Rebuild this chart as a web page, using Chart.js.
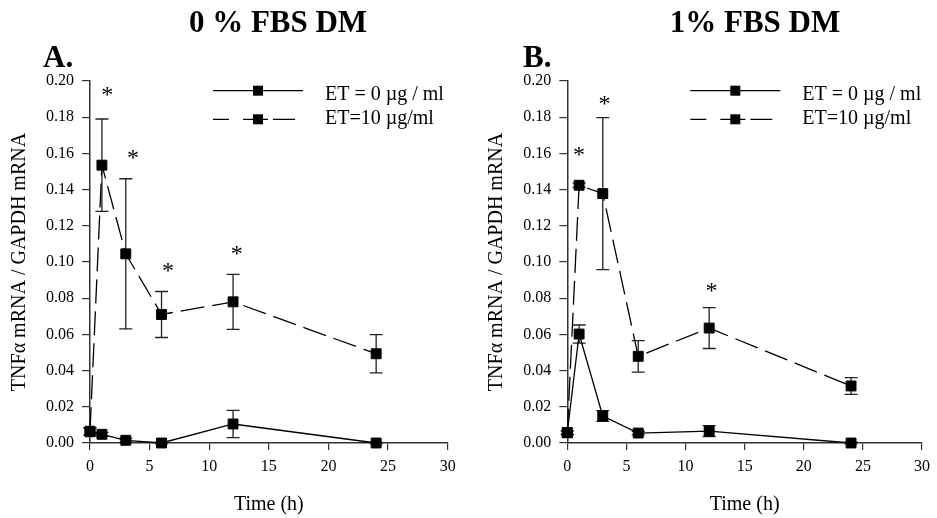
<!DOCTYPE html>
<html><head><meta charset="utf-8">
<script src="https://cdn.jsdelivr.net/npm/chart.js@4.4.0/dist/chart.umd.min.js"></script>
<style>
html,body{margin:0;padding:0;background:#fff;}
#wrap{position:relative;width:937px;height:518px;background:#fff;}
canvas{position:absolute;top:0;}
</style>
</head><body>
<div id="wrap">
<canvas id="cA" width="470" height="518" style="left:0px"></canvas>
<canvas id="cB" width="467" height="518" style="left:470px"></canvas>
</div>
<script>
// ---- data ----
const times = [0, 1, 3, 6, 12, 24];
const xTicks = [0, 5, 10, 15, 20, 25, 30];
const yTicks = [0, 0.02, 0.04, 0.06, 0.08, 0.10, 0.12, 0.14, 0.16, 0.18, 0.20];
const seriesNames = ['ET = 0 \u00b5g / ml', 'ET=10 \u00b5g/ml'];
const panelTitles = ['0 % FBS DM', '1% FBS DM'];
const panelLetters = ['A.', 'B.'];
const yTitle = 'TNF\u03b1 mRNA / GAPDH mRNA';
const xTitle = 'Time (h)';

const aEt0     = [0.0062, 0.0048, 0.0015, 0.0000, 0.0105, 0.0000];
const aEt0Err  = [0.0020, 0.0010, 0.0010, 0.0005, 0.0075, 0.0005];
const aEt10    = [0.0065, 0.1535, 0.1045, 0.0710, 0.0780, 0.0493];
const aEt10Err = [0.0020, 0.0255, 0.0415, 0.0127, 0.0152, 0.0106];

const bEt0     = [0.0057, 0.0602, 0.0149, 0.0055, 0.0066, 0.0000];
const bEt0Err  = [0.0010, 0.0050, 0.0030, 0.0010, 0.0030, 0.0005];
const bEt10    = [0.0057, 0.1424, 0.1378, 0.0479, 0.0635, 0.0315];
const bEt10Err = [0.0010, 0.0012, 0.0420, 0.0087, 0.0113, 0.0046];

const aStarX = [1.45, 3.6, 6.55, 12.3];
const aStarY = [0.195, 0.160, 0.098, 0.107];
const bStarX = [1.0, 3.15, 12.2];
const bStarY = [0.162, 0.190, 0.087];

// ---- rendering ----
const SERIF = "'Liberation Serif', 'Times New Roman', serif";

const decor = {
  id: 'decor',
  beforeDatasetsDraw(chart, args, o) {
    const ctx = chart.ctx, xs = chart.scales.x, ys = chart.scales.y;
    ctx.save();
    ctx.strokeStyle = '#222';
    ctx.lineWidth = 1.3;
    chart.data.datasets.forEach(ds => {
      (ds.errors || []).forEach((e, i) => {
        const v = ds.data[i].y;
        const px = xs.getPixelForValue(ds.data[i].x);
        const y1 = ys.getPixelForValue(v + e), y2 = ys.getPixelForValue(v - e);
        ctx.beginPath();
        ctx.moveTo(px, y1); ctx.lineTo(px, y2);
        ctx.moveTo(px - 6.5, y1); ctx.lineTo(px + 6.5, y1);
        ctx.moveTo(px - 6.5, y2); ctx.lineTo(px + 6.5, y2);
        ctx.stroke();
      });
    });
    ctx.restore();
  },
  afterDraw(chart, args, o) {
    const ctx = chart.ctx, xs = chart.scales.x, ys = chart.scales.y;
    const L = chart.chartArea.left;
    ctx.save();
    ctx.fillStyle = '#000';
    // title and letter
    ctx.font = 'bold 31px ' + SERIF;
    ctx.textAlign = 'center';
    ctx.textBaseline = 'alphabetic';
    ctx.fillText(o.title, o.titleX, 32);
    ctx.textAlign = 'left';
    ctx.fillText(o.letter, o.letterX, 67);
    // asterisks
    ctx.font = '24px ' + SERIF;
    ctx.textAlign = 'center';
    o.starX.forEach((sx, i) => {
      ctx.fillText('*', xs.getPixelForValue(sx), ys.getPixelForValue(o.starY[i]) + 12);
    });
    // legend
    ctx.strokeStyle = '#000';
    ctx.lineWidth = 1.3;
    const y1 = 90.7, y2 = 119.3;
    ctx.beginPath();
    ctx.moveTo(L + 123, y1); ctx.lineTo(L + 213, y1);
    ctx.moveTo(L + 123, y2); ctx.lineTo(L + 139, y2);
    ctx.moveTo(L + 153, y2); ctx.lineTo(L + 178, y2);
    ctx.moveTo(L + 183, y2); ctx.lineTo(L + 205, y2);
    ctx.stroke();
    ctx.fillRect(L + 163, y1 - 5, 10, 10);
    ctx.fillRect(L + 163, y2 - 5, 10, 10);
    ctx.font = '20px ' + SERIF;
    ctx.textAlign = 'left';
    ctx.fillText(o.names[0], L + 235, 100);
    ctx.fillText(o.names[1], L + 235, 124);
    ctx.restore();
  }
};

function makeChart(id, et0, et0Err, et10, et10Err, opt) {
  const pts = arr => times.map((t, i) => ({x: t, y: arr[i]}));
  const common = {
    showLine: true, borderColor: '#000', borderWidth: 1.3,
    pointStyle: 'rect', pointRadius: 7, pointHoverRadius: 7,
    pointBackgroundColor: '#000', pointBorderColor: '#000', pointBorderWidth: 1,
    clip: false, tension: 0
  };
  return new Chart(document.getElementById(id), {
    type: 'scatter',
    data: {
      datasets: [
        Object.assign({label: seriesNames[0], data: pts(et0), errors: et0Err}, common),
        Object.assign({label: seriesNames[1], data: pts(et10), errors: et10Err, borderDash: [24, 8]}, common)
      ]
    },
    options: {
      responsive: false, animation: false,
      layout: {padding: {left: 0, top: 81, right: opt.right, bottom: 0}},
      plugins: {
        legend: {display: false}, tooltip: {enabled: false},
        decor: {title: opt.title, titleX: opt.titleX, letter: opt.letter, letterX: opt.letterX,
                starX: opt.starX, starY: opt.starY, names: seriesNames}
      },
      scales: {
        x: {
          type: 'linear', min: 0, max: 30,
          afterBuildTicks: s => { s.ticks = xTicks.map(v => ({value: v})); },
          afterFit: s => { s.height = 75; },
          grid: {display: true, drawOnChartArea: false, drawTicks: true, tickLength: 7, color: '#333', lineWidth: 1.2},
          border: {display: true, color: '#333', width: 1.5},
          ticks: {color: '#000', font: {family: SERIF, size: 16}, padding: 7, maxRotation: 0},
          title: {display: true, text: xTitle, color: '#000', font: {family: SERIF, size: 20, lineHeight: 1.2}, padding: {top: 0, bottom: 1}}
        },
        y: {
          type: 'linear', min: 0, max: 0.2,
          afterBuildTicks: s => { s.ticks = yTicks.map(v => ({value: v})); },
          afterFit: s => { s.width = opt.yW; },
          grid: {display: true, drawOnChartArea: false, drawTicks: true, tickLength: 8, color: '#333', lineWidth: 1.2},
          border: {display: true, color: '#333', width: 1.5},
          ticks: {color: '#000', font: {family: SERIF, size: 16}, padding: 8, callback: v => v.toFixed(2)},
          title: {display: true, text: yTitle, color: '#000', font: {family: SERIF, size: 20, lineHeight: 1.2}, padding: {top: opt.yTitlePad, bottom: 0}}
        }
      }
    },
    plugins: [decor]
  });
}

makeChart('cA', aEt0, aEt0Err, aEt10, aEt10Err,
  {right: 22.3, yW: 90, yTitlePad: 8, title: panelTitles[0], titleX: 278, letter: panelLetters[0], letterX: 43,
   starX: aStarX, starY: aStarY});
makeChart('cB', bEt0, bEt0Err, bEt10, bEt10Err,
  {right: 12, yW: 97.3, yTitlePad: 15, title: panelTitles[1], titleX: 285, letter: panelLetters[1], letterX: 53,
   starX: bStarX, starY: bStarY});
</script>
</body></html>
